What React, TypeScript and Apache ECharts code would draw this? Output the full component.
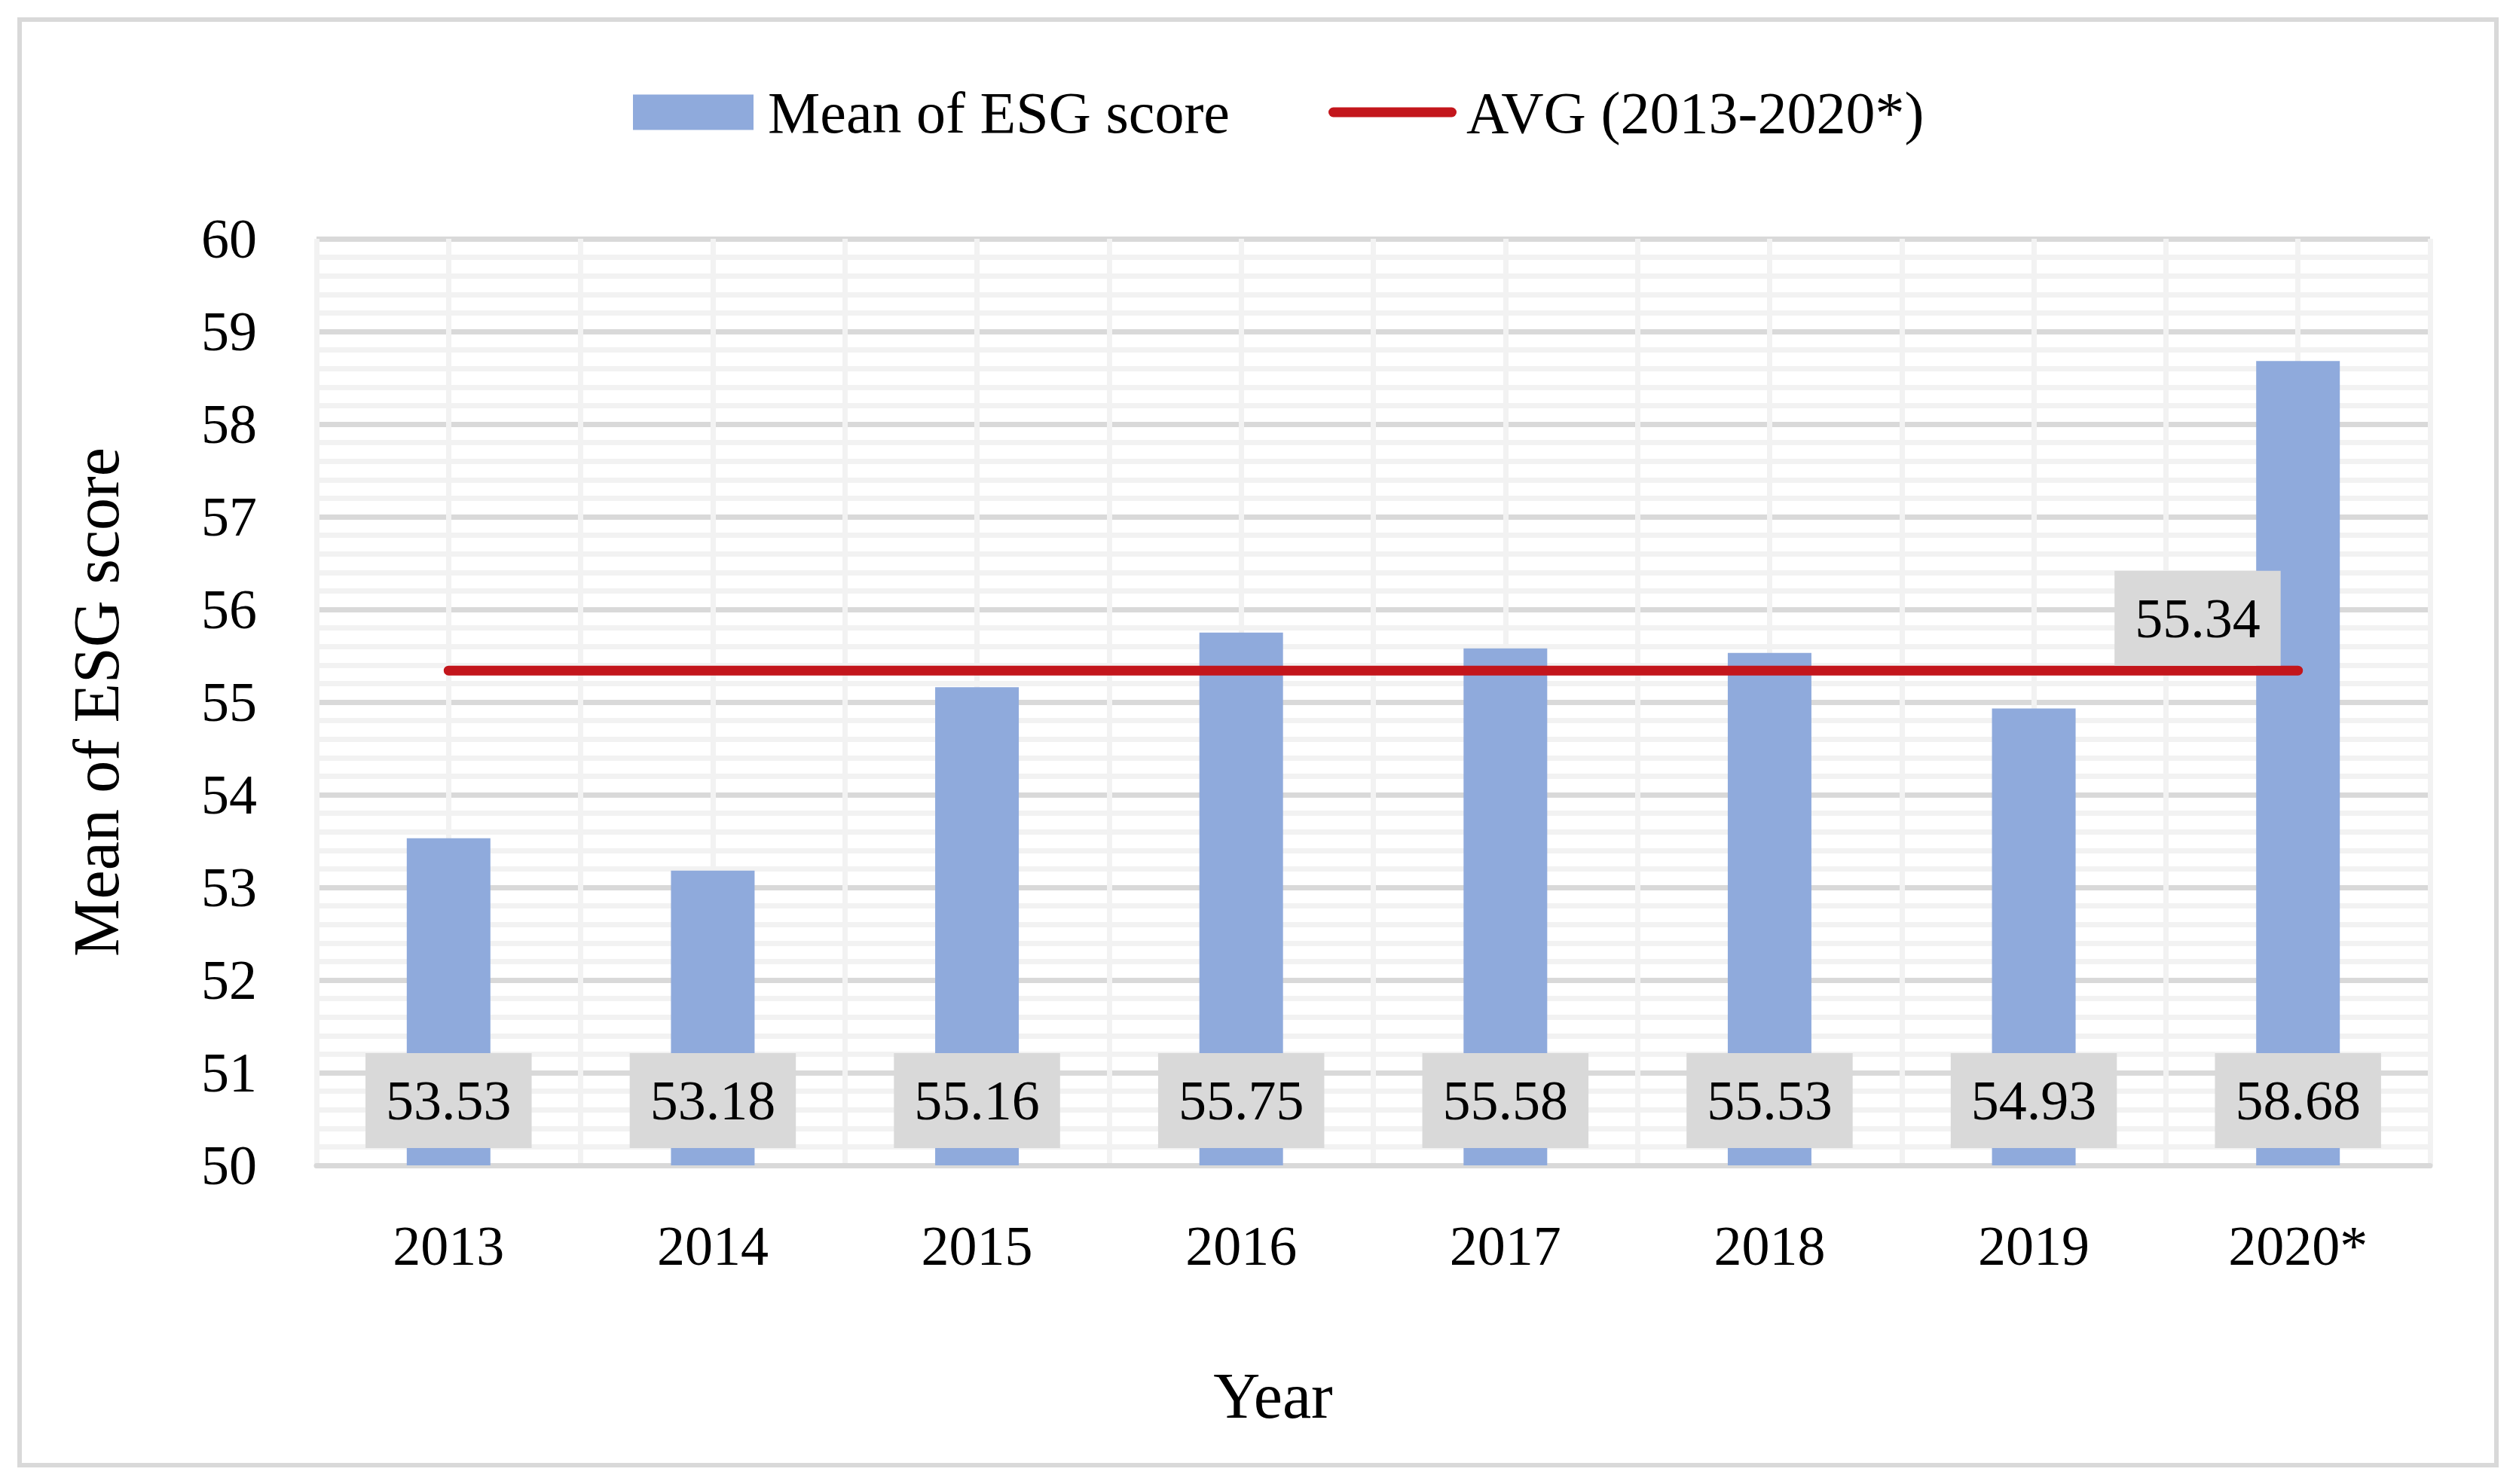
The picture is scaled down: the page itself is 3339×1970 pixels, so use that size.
import React, { useEffect, useRef } from 'react';
import * as echarts from 'echarts';

const categories = ['2013', '2014', '2015', '2016', '2017', '2018', '2019', '2020*'];
const esgMeans = [53.53, 53.18, 55.16, 55.75, 55.58, 55.53, 54.93, 58.68];
const avgValue = 55.34;
const yMin = 50;
const yMax = 60;
const yInterval = 1;

const barName = 'Mean of ESG score';
const lineName = 'AVG (2013-2020*)';
const xTitle = 'Year';
const yTitle = 'Mean of ESG score';

const FONT = "'Liberation Serif', 'Times New Roman', serif";
const BLUE = '#8faadc';
const RED = '#c3161c';
const GRID_MAJOR = '#d9d9d9';
const GRID_MINOR = '#f2f2f2';
const LABEL_BG = '#d9d9d9';

export default function App() {
  const ref = useRef<HTMLDivElement>(null);

  useEffect(() => {
    if (!ref.current) return;
    const chart = echarts.init(ref.current, null, { renderer: 'svg' });

    const avgData = categories.map((_, i) =>
      i === categories.length - 1
        ? {
            value: avgValue,
            label: {
              show: true,
              position: 'top',
              distance: 6,
              align: 'right',
              padding: [0, 23, 26, 0],
              formatter: (p: any) => '{box|' + Number(p.value).toFixed(2) + '}',
              rich: {
                box: {
                  backgroundColor: LABEL_BG,
                  padding: [26, 27],
                  fontSize: 74,
                  lineHeight: 74,
                  fontFamily: FONT,
                  color: '#000',
                },
              },
            },
          }
        : avgValue
    );

    const option: any = {
      animation: false,
      backgroundColor: '#ffffff',
      graphic: [
        {
          type: 'rect',
          z: -10,
          shape: { x: 26, y: 26, width: 3287, height: 1919 },
          style: { fill: 'none', stroke: '#d9d9d9', lineWidth: 6 },
          silent: true,
        },
      ],
      legend: [
        {
          data: [{ name: barName, icon: 'rect' }],
          left: 835,
          top: 104,
          itemWidth: 160,
          itemHeight: 47,
          textStyle: { fontSize: 78, lineHeight: 80, fontFamily: FONT, color: '#000', padding: [0, 0, 0, 14] },
        },
        {
          data: [
            {
              name: lineName,
              icon: 'path://M6.5,0H163.5A6.5,6.5,0,0,1,163.5,13H6.5A6.5,6.5,0,0,1,6.5,0Z',
            },
          ],
          left: 1758,
          top: 104,
          itemWidth: 170,
          itemHeight: 13,
          itemStyle: { color: RED },
          textStyle: { fontSize: 78, lineHeight: 80, fontFamily: FONT, color: '#000', padding: [0, 0, 0, 8] },
        },
      ],
      grid: { left: 420, right: 114, top: 317, bottom: 423, containLabel: false },
      xAxis: [
        {
          type: 'category',
          data: categories,
          z: 2,
          name: xTitle,
          nameLocation: 'middle',
          nameGap: 263,
          nameTextStyle: { fontSize: 86, lineHeight: 86, fontFamily: FONT, color: '#000', padding: [0, 266, 0, 0] },
          axisLine: { show: true, lineStyle: { color: GRID_MAJOR, width: 7 } },
          axisTick: { show: false },
          axisLabel: { fontSize: 74, lineHeight: 74, fontFamily: FONT, color: '#000', margin: 70 },
          splitLine: { show: false },
        },
        {
          type: 'value',
          min: 0,
          max: 16,
          interval: 1,
          position: 'bottom',
          z: 0,
          axisLine: { show: false },
          axisTick: { show: false },
          axisLabel: { show: false },
          splitLine: { show: true, lineStyle: { color: GRID_MINOR, width: 7 } },
        },
      ],
      yAxis: {
        type: 'value',
        min: yMin,
        max: yMax,
        interval: yInterval,
        z: 0,
        name: yTitle,
        nameLocation: 'middle',
        nameGap: 249,
        nameTextStyle: { fontSize: 86, lineHeight: 86, fontFamily: FONT, color: '#000' },
        axisLine: { show: false },
        axisTick: { show: false },
        axisLabel: { fontSize: 74, fontFamily: FONT, color: '#000', margin: 79 },
        splitLine: { show: true, lineStyle: { color: GRID_MAJOR, width: 7 } },
        minorTick: { show: false, splitNumber: 5 },
        minorSplitLine: { show: true, lineStyle: { color: GRID_MINOR, width: 7 } },
      },
      series: [
        {
          name: barName,
          type: 'bar',
          xAxisIndex: 0,
          data: esgMeans,
          barWidth: 111,
          itemStyle: { color: BLUE },
          z: 3,
          label: {
            show: true,
            position: 'insideBottom',
            distance: 23,
            formatter: (p: any) => Number(p.value).toFixed(2),
            backgroundColor: LABEL_BG,
            padding: [26, 27],
            fontSize: 74,
            lineHeight: 74,
            fontFamily: FONT,
            color: '#000',
          },
        },
        {
          name: lineName,
          type: 'line',
          xAxisIndex: 0,
          data: avgData,
          symbol: 'circle',
          symbolSize: 1,
          showSymbol: true,
          z: 4,
          color: RED,
          itemStyle: { color: RED },
          lineStyle: { color: RED, width: 13, cap: 'round' },
          label: { show: false },
          labelLayout: { hideOverlap: false },
        },
      ],
    };

    chart.setOption(option);
    return () => chart.dispose();
  }, []);

  return (
    <div
      ref={ref}
      style={{ position: 'fixed', left: 0, top: 0, width: 3339, height: 1970, background: '#ffffff' }}
    />
  );
}
